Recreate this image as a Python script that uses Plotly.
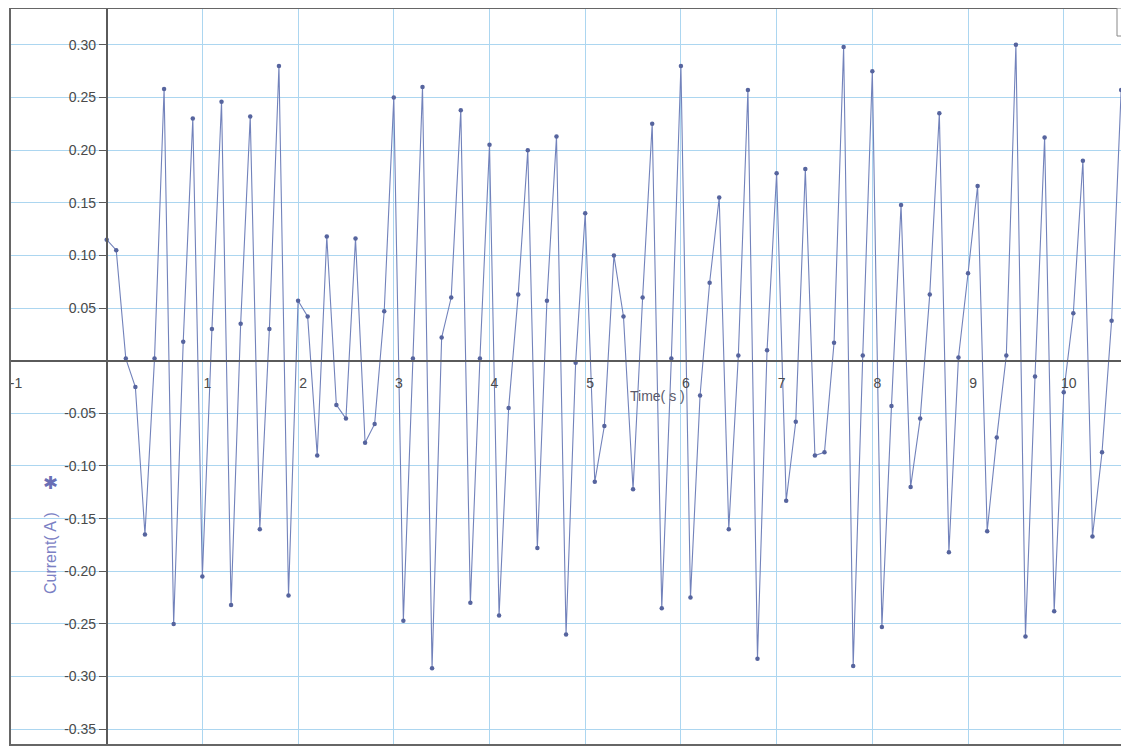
import plotly.graph_objects as go

# Sampling: every 0.1 s starting at 0 s
time_s = [round(0.1 * i, 1) for i in range(107)]
current_a = [
    0.115, 0.105, 0.002, -0.025, -0.165, 0.002, 0.258, -0.250, 0.018, 0.230,
    -0.205, 0.030, 0.246, -0.232, 0.035, 0.232, -0.160, 0.030, 0.280, -0.223,
    0.057, 0.042, -0.090, 0.118, -0.042, -0.055, 0.116, -0.078, -0.060, 0.047,
    0.250, -0.247, 0.002, 0.260, -0.292, 0.022, 0.060, 0.238, -0.230, 0.002,
    0.205, -0.242, -0.045, 0.063, 0.200, -0.178, 0.057, 0.213, -0.260, -0.002,
    0.140, -0.115, -0.062, 0.100, 0.042, -0.122, 0.060, 0.225, -0.235, 0.002,
    0.280, -0.225, -0.033, 0.074, 0.155, -0.160, 0.005, 0.257, -0.283, 0.010,
    0.178, -0.133, -0.058, 0.182, -0.090, -0.087, 0.017, 0.298, -0.290, 0.005,
    0.275, -0.253, -0.043, 0.148, -0.120, -0.055, 0.063, 0.235, -0.182, 0.003,
    0.083, 0.166, -0.162, -0.073, 0.005, 0.300, -0.262, -0.015, 0.212, -0.238,
    -0.030, 0.045, 0.190, -0.167, -0.087, 0.038, 0.257,
]

x_ticks = [-1, 1, 2, 3, 4, 5, 6, 7, 8, 9, 10]
y_ticks = [0.30, 0.25, 0.20, 0.15, 0.10, 0.05, -0.05, -0.10, -0.15, -0.20, -0.25, -0.30, -0.35]
y_tick_labels = ["0.30", "0.25", "0.20", "0.15", "0.10", "0.05", "-0.05", "-0.10",
                 "-0.15", "-0.20", "-0.25", "-0.30", "-0.35"]
x_title = "Time( s )"
y_title = "Current( A )"

x_range = [-1.01, 10.64]
y_range = [-0.365, 0.335]

grid_col = "#acd6f0"
axis_col = "#5a5a5a"
line_col = "#7282bb"

# page is offset by the 8px body margin
W, H = 1121, 743
ML, MR, MT, MB = 2, 4, 0, 6
OFF = 8
plot_w = W - ML - MR
plot_h = H - MT - MB


def px_x(px):
    return (px - OFF - ML) / plot_w


def px_y(py):
    return 1 - (py - OFF - MT) / plot_h


fig = go.Figure()
fig.add_trace(go.Scatter(
    x=time_s, y=current_a, mode="lines+markers",
    line=dict(color=line_col, width=1.1),
    marker=dict(color="#56649e", size=4.5),
    showlegend=False, hoverinfo="x+y",
))

xpos = (0 - y_range[0]) / (y_range[1] - y_range[0])
ypos = (0 - x_range[0]) / (x_range[1] - x_range[0])

fig.update_layout(
    width=W, height=H,
    margin=dict(l=ML, r=MR, t=MT, b=MB),
    paper_bgcolor="white", plot_bgcolor="white",
    font=dict(family="Liberation Sans, Arial, sans-serif", size=14, color="#4a4a4a"),
    xaxis=dict(
        range=x_range, tickvals=list(range(-1, 11)), ticktext=[""] * 12,
        showgrid=True, gridcolor=grid_col, gridwidth=1,
        zeroline=False, showline=False, ticks="",
        anchor="free", position=xpos,
    ),
    yaxis=dict(
        range=y_range, tickvals=y_ticks, ticktext=y_tick_labels,
        showgrid=True, gridcolor=grid_col, gridwidth=1,
        zeroline=False, showline=False, ticks="",
        showticklabels=False,
    ),
    xaxis2=dict(
        range=x_range, overlaying="x", tickvals=x_ticks,
        ticktext=[str(v) for v in x_ticks],
        showgrid=False, zeroline=False, showline=True, linecolor=axis_col, linewidth=1.6,
        ticks="", anchor="free", position=xpos, side="bottom",
        ticklabelshift=5, ticklabelstandoff=10,
        tickfont=dict(size=14, color="#4a4a4a"),
    ),
    yaxis2=dict(
        range=y_range, overlaying="y", tickvals=y_ticks, ticktext=y_tick_labels,
        showgrid=False, zeroline=False, showline=True, linecolor=axis_col, linewidth=1.6,
        ticks="outside", ticklen=7, tickcolor=axis_col, tickwidth=1,
        anchor="free", position=ypos, side="left",
        tickfont=dict(size=14, color="#4a4a4a"),
    ),
)

# invisible trace to activate the secondary axes drawn through the origin
fig.add_trace(go.Scatter(x=[time_s[0]], y=[current_a[0]], xaxis="x2", yaxis="y2",
                         mode="markers", marker=dict(opacity=0), showlegend=False,
                         hoverinfo="skip"))

fig.add_annotation(x=px_x(658), y=px_y(396), xref="paper", yref="paper", text=x_title,
                   xanchor="center", yanchor="middle",
                   showarrow=False, font=dict(size=14, color="#5a5a6a"))
fig.add_annotation(x=px_x(50), y=px_y(553), xref="paper", yref="paper", text=y_title,
                   xanchor="center", yanchor="middle",
                   showarrow=False, textangle=-90, font=dict(size=16, color="#7b80c4"))
fig.add_annotation(x=px_x(50), y=px_y(483), xref="paper", yref="paper",
                   xanchor="center", yanchor="middle",
                   text="✱", showarrow=False, font=dict(size=18, color="#6a6fb5"))

fig.add_shape(type="rect", xref="paper", yref="paper", x0=0, y0=0, x1=1, y1=1,
              line=dict(color="#666666", width=2))
fig.add_shape(type="rect", xref="paper", yref="paper",
              x0=1 - 8 / plot_w, y0=1 - 28 / plot_h, x1=1, y1=1,
              line=dict(color="#888888", width=1), fillcolor="white")

fig.write_html("out.html")
